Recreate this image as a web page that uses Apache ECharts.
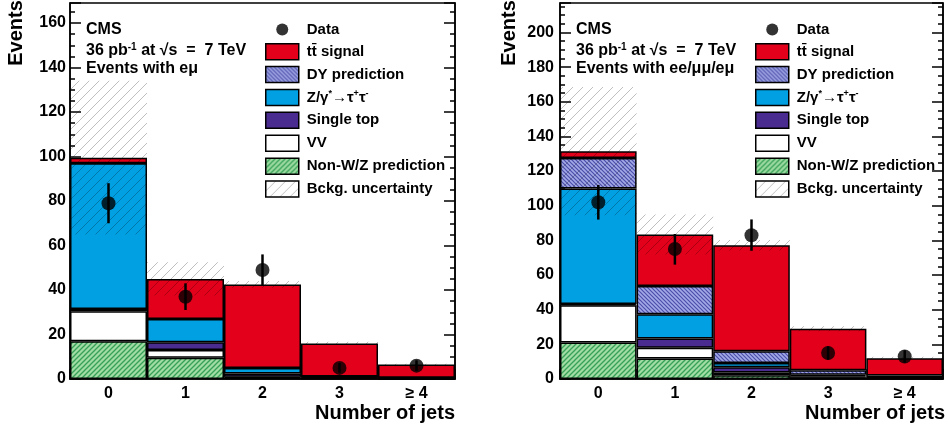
<!DOCTYPE html>
<html><head><meta charset="utf-8">
<script src="https://cdn.jsdelivr.net/npm/echarts@6/dist/echarts.min.js"></script>
<style>html,body{margin:0;padding:0;background:#fff}#c{width:950px;height:430px}</style>
</head><body><div id="c"></div>
<script>
// ---------- data ----------
const categories = ['0', '1', '2', '3', '\u2265 4'];

// Left panel: events with e-mu
const emuNonWZ   = [17, 9.5, 0.5, 0.2, 0.1];
const emuVV      = [13.5, 3.5, 0.5, 0.2, 0.1];
const emuSingleT = [1, 3.5, 1.5, 0.5, 0.3];
const emuZtautau = [65.5, 10.5, 2.5, 0.2, 0.1];
const emuDY      = [0, 0, 0, 0, 0];
const emuTTbar   = [2.5, 18, 37.5, 14.9, 5.9];
const emuUncLow  = [65, 37.5, 41, 15.3, 6.1];
const emuUncHigh = [134, 52.5, 44, 16.7, 6.9];
const emuData    = [79, 37, 49, 5, 6];
const emuDataLow = [70, 31, 42, 2.8, 3.6];
const emuDataHigh= [88, 43, 56, 7.2, 8.4];

// Right panel: events with ee / mumu / e-mu
const allNonWZ   = [21, 11.8, 2.2, 0.4, 0.2];
const allVV      = [21.5, 6.3, 1.6, 0.4, 0.2];
const allSingleT = [0.8, 5.3, 3.0, 0.8, 0.5];
const allZtautau = [66.7, 14, 2.4, 0.8, 0.3];
const allDY      = [17.5, 16.3, 6.8, 2.6, 0.8];
const allTTbar   = [4, 29.7, 61.2, 24, 10];
const allUncLow  = [94.5, 71.8, 74.2, 27.5, 11.2];
const allUncHigh = [168.5, 95, 80.2, 30.5, 12.8];
const allData    = [102, 75, 83, 15, 13];
const allDataLow = [92, 66, 74, 11.1, 9.4];
const allDataHigh= [112, 83.7, 92.1, 18.9, 16.6];

const yMax = [169, 217];

// ---------- styles ----------
const FONT = '"Liberation Sans", Arial, Helvetica, sans-serif';
const RED = '#e3001b', BLUE = '#00a0e2', PURPLE = '#4a2b90', WHITE = '#ffffff';

function hatch(size, bg, fg, lw, dir) {
  const c = document.createElement('canvas');
  c.width = c.height = size;
  const g = c.getContext('2d');
  if (bg) { g.fillStyle = bg; g.fillRect(0, 0, size, size); }
  g.strokeStyle = fg; g.lineWidth = lw; g.beginPath();
  if (dir === '/') {
    for (const k of [0, size, 2 * size]) { g.moveTo(k + size, -size); g.lineTo(k - 2 * size, 2 * size); }
  } else {
    for (const k of [-size, 0, size]) { g.moveTo(k - size, -size); g.lineTo(k + 2 * size, 2 * size); }
  }
  g.stroke();
  return { image: c, repeat: 'repeat' };
}
const GREEN_H = hatch(5, '#a0dca4', '#36a056', 1.3, '/');
const DY_H = hatch(4, '#a3a8e6', '#4a4ea8', 1.2, '\\');
const UNC_H = hatch(10, null, 'rgba(0,0,0,0.25)', 1, '/');

const NAMES = {
  data: 'Data', tt: 'tt\u0304 signal', dy: 'DY prediction', ztt: 'Z/\u03b3*\u2192\u03c4+\u03c4-',
  st: 'Single top', vv: 'VV', nwz: 'Non-W/Z prediction', unc: 'Bckg. uncertainty'
};
const legendLabel = {};
legendLabel[NAMES.data] = 'Data';
legendLabel[NAMES.tt] = 'tt\u0304 signal';
legendLabel[NAMES.dy] = 'DY prediction';
legendLabel[NAMES.ztt] = 'Z/\u03b3{sup|*}\u2192\u03c4{sup|+}\u03c4{sup|-}';
legendLabel[NAMES.st] = 'Single top';
legendLabel[NAMES.vv] = 'VV';
legendLabel[NAMES.nwz] = 'Non-W/Z prediction';
legendLabel[NAMES.unc] = 'Bckg. uncertainty';

const border = { borderColor: '#000', borderWidth: 1.5 };
const axisLineStyle = { color: '#000', width: 1.5 };

function panelSeries(p, comps, uncLow, uncHigh, data, dLow, dHigh) {
  const yi = p * 4;
  const base = { xAxisIndex: p, yAxisIndex: yi };
  const out = [];
  const defs = [
    [NAMES.nwz, comps[0], GREEN_H],
    [NAMES.vv, comps[1], WHITE],
    [NAMES.st, comps[2], PURPLE],
    [NAMES.ztt, comps[3], BLUE],
    [NAMES.dy, comps[4], DY_H],
    [NAMES.tt, comps[5], RED]
  ];
  defs.forEach(([name, vals, color]) => {
    out.push(Object.assign({
      type: 'bar', name, stack: 'bkg' + p, data: vals, barCategoryGap: '0%',
      itemStyle: Object.assign({ color }, border), silent: true, z: 2, animation: false
    }, base));
  });
  out.push(Object.assign({
    type: 'custom', name: NAMES.unc, z: 3, silent: true, animation: false,
    itemStyle: { color: UNC_H },
    data: uncLow.map((v, i) => [i, v, uncHigh[i]]),
    encode: { x: 0, y: [1, 2] },
    renderItem(params, api) {
      const i = api.value(0);
      const top = api.coord([i, api.value(2)]);
      const bot = api.coord([i, api.value(1)]);
      const w = api.size([1, 0])[0];
      return { type: 'rect', shape: { x: top[0] - w / 2, y: top[1], width: w, height: bot[1] - top[1] },
        style: { fill: UNC_H } };
    }
  }, base));
  out.push(Object.assign({
    type: 'custom', name: 'Data error', z: 4, silent: true, animation: false,
    data: dLow.map((v, i) => [i, v, dHigh[i]]),
    encode: { x: 0, y: [1, 2] },
    renderItem(params, api) {
      const i = api.value(0);
      const a = api.coord([i, api.value(1)]);
      const b = api.coord([i, api.value(2)]);
      return { type: 'line', shape: { x1: a[0], y1: a[1], x2: b[0], y2: b[1] },
        style: { stroke: '#000', lineWidth: 2.5 } };
    }
  }, base));
  out.push(Object.assign({
    type: 'scatter', name: NAMES.data, data: data, symbol: 'circle', symbolSize: 14,
    itemStyle: { color: '#000' }, z: 5, silent: true, animation: false
  }, base));
  return out;
}

function yAxes(p) {
  const common = { gridIndex: p, type: 'value', min: 0, max: yMax[p], splitLine: { show: false } };
  return [
    Object.assign({}, common, {
      position: 'left', interval: 20,
      axisLine: { show: true, lineStyle: axisLineStyle },
      axisTick: { show: true, inside: true, length: 11, lineStyle: axisLineStyle },
      axisLabel: { show: true, margin: p === 0 ? 4 : 6, color: '#000', fontFamily: FONT, fontWeight: 'bold', fontSize: 16,
        formatter: v => (v % 20 === 0 ? String(v) : '') }
    }),
    Object.assign({}, common, {
      position: 'left', interval: 5, axisLine: { show: false },
      axisTick: { show: true, inside: true, length: 5, lineStyle: axisLineStyle }, axisLabel: { show: false }
    }),
    Object.assign({}, common, {
      position: 'right', interval: 20, axisLine: { show: true, lineStyle: axisLineStyle },
      axisTick: { show: true, inside: true, length: 11, lineStyle: axisLineStyle }, axisLabel: { show: false }
    }),
    Object.assign({}, common, {
      position: 'right', interval: 5, axisLine: { show: false },
      axisTick: { show: true, inside: true, length: 5, lineStyle: axisLineStyle }, axisLabel: { show: false }
    })
  ];
}

function xAxis(p) {
  return {
    gridIndex: p, type: 'category', data: categories, boundaryGap: true,
    axisLine: { show: true, lineStyle: axisLineStyle },
    axisTick: { show: true, inside: true, length: 10, alignWithLabel: false, lineStyle: axisLineStyle },
    axisLabel: { margin: 7, color: '#000', fontFamily: FONT, fontWeight: 'bold', fontSize: 16 },
    splitLine: { show: false }
  };
}

const dataIcon = 'path://M0,0M33,16M10.5,8A6,6,0,1,0,22.5,8A6,6,0,1,0,10.5,8Z';
function legendData() {
  return [
    { name: NAMES.data, icon: dataIcon, itemStyle: { color: '#000', borderWidth: 0 } },
    { name: NAMES.tt, icon: 'rect', itemStyle: Object.assign({ color: RED }, border) },
    { name: NAMES.dy, icon: 'rect', itemStyle: Object.assign({ color: DY_H }, border) },
    { name: NAMES.ztt, icon: 'rect', itemStyle: Object.assign({ color: BLUE }, border) },
    { name: NAMES.st, icon: 'rect', itemStyle: Object.assign({ color: PURPLE }, border) },
    { name: NAMES.vv, icon: 'rect', itemStyle: Object.assign({ color: WHITE }, border) },
    { name: NAMES.nwz, icon: 'rect', itemStyle: Object.assign({ color: GREEN_H }, border) },
    { name: NAMES.unc, icon: 'rect', itemStyle: Object.assign({ color: UNC_H }, border) }
  ];
}
function legend(left) {
  return {
    left, top: 21.5, orient: 'vertical', itemWidth: 33, itemHeight: 16, itemGap: 5.4, padding: 0,
    selectedMode: false, data: legendData(),
    formatter: n => legendLabel[n] || n,
    textStyle: { color: '#000', fontFamily: FONT, fontWeight: 'bold', fontSize: 15, lineHeight: 16, padding: [0, 0, 0, 3],
      rich: { sup: { fontSize: 9, lineHeight: 16, fontWeight: 'bold', fontFamily: FONT, color: '#000', verticalAlign: 'top' } } }
  };
}

function annot(x, line3) {
  const st = { font: 'bold 16px ' + FONT, fill: '#000', verticalAlign: 'middle', align: 'left' };
  return [
    { type: 'text', x, y: 30, style: Object.assign({ text: 'CMS' }, st) },
    { type: 'text', x, y: 51, style: Object.assign({ text: '36 pb{sup|-1} at \u221as  =  7 TeV',
      rich: { sup: { font: 'bold 10px ' + FONT, fill: '#000', verticalAlign: 'top', padding: [0, 0, 7, 0] } } }, st) },
    { type: 'text', x, y: 69, style: Object.assign({ text: line3 }, st) }
  ];
}
const titleStyle = { font: 'bold 20px ' + FONT, fill: '#000', verticalAlign: 'middle' };

const option = {
  backgroundColor: '#fff',
  animation: false,
  grid: [
    { left: 70, top: 3, width: 385, height: 376, show: true, borderColor: '#000', borderWidth: 1.5, backgroundColor: 'transparent', outerBoundsMode: 'none' },
    { left: 560, top: 3, width: 383, height: 376, show: true, borderColor: '#000', borderWidth: 1.5, backgroundColor: 'transparent', outerBoundsMode: 'none' }
  ],
  xAxis: [xAxis(0), xAxis(1)],
  yAxis: yAxes(0).concat(yAxes(1)),
  legend: [legend(265), legend(755)],
  series: panelSeries(0, [emuNonWZ, emuVV, emuSingleT, emuZtautau, emuDY, emuTTbar], emuUncLow, emuUncHigh, emuData, emuDataLow, emuDataHigh)
    .concat(panelSeries(1, [allNonWZ, allVV, allSingleT, allZtautau, allDY, allTTbar], allUncLow, allUncHigh, allData, allDataLow, allDataHigh)),
  graphic: [].concat(
    annot(86, 'Events with e\u03bc'),
    annot(576, 'Events with ee/\u03bc\u03bc/e\u03bc'),
    [
      { type: 'text', x: 16, y: 33, rotation: Math.PI / 2, style: Object.assign({ text: 'Events', align: 'center' }, titleStyle) },
      { type: 'text', x: 509, y: 33, rotation: Math.PI / 2, style: Object.assign({ text: 'Events', align: 'center' }, titleStyle) },
      { type: 'text', x: 455, y: 413, style: Object.assign({ text: 'Number of jets', align: 'right' }, titleStyle) },
      { type: 'text', x: 945, y: 413, style: Object.assign({ text: 'Number of jets', align: 'right' }, titleStyle) }
    ]
  )
};
const chart = echarts.init(document.getElementById('c'), null, { renderer: 'canvas' });
chart.setOption(option);
</script>
</body></html>
